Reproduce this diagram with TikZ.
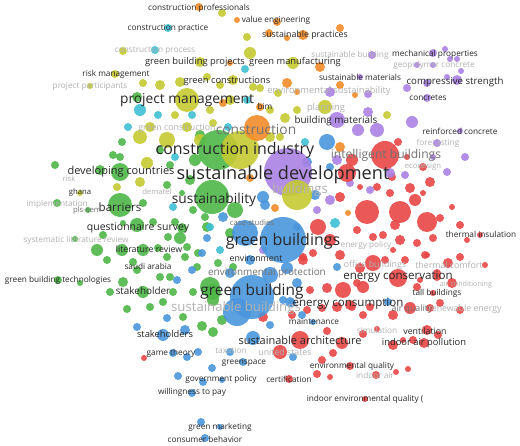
\documentclass[tikz,border=0pt]{standalone}
\usepackage{fontspec}
\setmainfont{Open Sans}
\pgfdeclarelayer{bg}
\pgfdeclarelayer{hub}
\pgfdeclarelayer{fg}
\pgfsetlayers{bg,main,hub,fg}
\definecolor{cR}{RGB}{232,70,70}
\definecolor{cG}{RGB}{78,184,72}
\definecolor{cB}{RGB}{74,150,220}
\definecolor{cY}{RGB}{198,202,50}
\definecolor{cP}{RGB}{170,130,228}
\definecolor{cC}{RGB}{62,192,212}
\definecolor{cO}{RGB}{242,140,42}
\definecolor{tD}{RGB}{40,40,40}
\definecolor{tM}{RGB}{115,115,115}
\definecolor{tL}{RGB}{178,178,178}
\tikzset{
  dotn/.style={circle, inner sep=0pt, draw=none, fill opacity=0.9},
  lk/.style={line width=0.55pt, draw opacity=0.36},
  lk2/.style={line width=0.5pt, draw opacity=0.26},
  lk3/.style={line width=0.5pt, draw opacity=0.2},
  lab/.style={inner sep=0pt, anchor=center},
}
\newcommand\fs[1]{\pgfmathsetmacro\fsz{#1*1.1}\fontsize{\fsz}{\fsz}\selectfont}
\def\redlist{
410/188/5, 430/182/5, 423/167/4, 407/157/3, 392/177/4, 390/193/4, 377/187/4, 360/187/3,
423/193/3, 340/197/5, 440/218/4, 452/207/3, 460/225/4, 467/240/3, 480/235/3, 460/257/4,
448/263/5, 433/238/4, 417/243/4, 400/240/5, 383/235/4, 373/237/4, 357/230/4, 318/227/8,
313/253/4, 303/257/4, 373/263/8, 360/268/5, 405/260/4, 393/250/3, 427/255/3, 357/283/4,
327/288/5, 310/290/4, 417/287/4, 437/277/4, 452/283/5, 433/293/3, 363/287/6, 385/260/4,
425/255/4, 437/273/4, 420/280/3, 410/308/6, 393/315/5, 363/315/4, 352/307/4, 337/307/5,
427/330/5, 438/335/4, 413/340/4, 460/310/4, 430/308/4, 377/329/3, 363/334/4, 327/331/4,
280/352/7, 342/343/6, 333/353/4, 322/360/4, 350/366/4, 317/374/4, 330/377/3, 289/379/4,
376/375/4, 396/372/3, 408/369/3, 393/345/5, 403/340/3, 424/343/5, 365/399/3, 263/317/5,
292/315/4, 307/310/4, 322/308/4, 350/305/5, 370/307/4, 144/358/3, 352/160/6, 398/142/4,
415/200/6, 395/225/5, 330/240/6, 340/255/5, 303/260/5, 485/265/3, 440/303/4}
\def\greenlist{
120/157/4, 100/170/5, 57/203/4, 88/210/3, 143/203/4, 153/222/4, 175/222/4, 137/225/7,
182/228/5, 167/185/4, 182/193/3, 103/235/4, 123/223/3, 168/237/4, 180/238/6, 193/210/4,
205/217/4, 187/247/4, 158/248/4, 122/250/6, 143/250/6, 97/250/6, 75/239/3, 107/260/4,
133/262/4, 167/257/4, 185/257/4, 197/267/4, 218/263/4, 137/270/4, 160/277/4, 123/282/5,
58/280/4, 80/283/3, 110/292/4, 143/292/6, 173/292/4, 193/292/4, 213/292/8, 233/267/4,
230/233/5, 207/227/5, 170/165/4, 113/155/4, 137/97/5, 122/142/4, 127/309/4, 150/307/4,
163/302/4, 183/317/4, 202/326/5, 213/332/5, 213/300/6, 170/277/4, 198/253/4, 210/287/10,
190/180/5, 235/210/8, 195/160/6, 160/150/4, 200/135/5, 222/320/5, 55/165/4}
\def\bluelist{
202/253/4, 207/238/4, 287/268/6, 297/283/5, 230/273/5, 177/280/4, 192/270/4, 283/300/4,
290/302/5, 302/315/4, 313/322/3, 337/267/4, 270/325/4, 167/318/4, 137/327/4, 163/335/6,
185/330/5, 173/353/4, 187/357/4, 198/352/4, 230/352/4, 243/362/4, 212/368/4, 178/376/4,
203/382/4, 222/380/3, 192/393/4, 201/422/4, 220/427/3, 205/438/4, 253/338/7, 293/357/4,
292/303/4, 388/302/4, 327/142/8, 307/162/5, 330/167/4, 263/197/6, 223/217/5, 297/227/4,
265/205/5, 315/195/5, 250/260/5}
\def\purplelist{
372/55/4, 433/53/4, 445/49/3, 450/59/3, 457/59/3, 417/65/3, 433/65/3, 461/71/3,
447/77/3, 457/80/5, 427/83/4, 407/88/4, 368/94/4, 330/92/5, 360/77/3, 427/98/4,
412/122/6, 368/112/5, 358/130/6, 377/130/7, 337/120/8, 460/131/3, 437/143/4, 337/160/5,
370/190/4, 350/183/4, 330/200/5, 317/210/4, 433/157/3, 465/157/4, 447/172/4, 405/175/4,
390/173/5, 263/250/4}
\def\yellowlist{
222/13/4, 247/37/4, 250/53/6, 123/51/4, 180/82/5, 160/85/5, 143/83/4, 115/74/4,
90/86/3, 200/62/5, 207/77/4, 220/85/4, 233/80/5, 253/87/4, 210/110/4, 140/137/7,
167/140/8, 200/140/6, 150/127/5, 187/127/5, 213/123/4, 293/63/6, 260/88/4, 278/93/4,
325/107/7, 270/110/4, 285/118/5, 270/137/5, 297/110/4, 387/115/4, 280/137/4, 147/163/6,
140/182/5, 117/187/4, 80/193/3, 230/100/5, 175/115/4}
\def\cyanlist{
168/28/4, 155/50/4, 245/69/4, 140/110/6, 158/115/4, 192/115/4, 128/127/4, 228/127/4,
247/100/4, 305/142/4, 335/223/5, 173/207/4, 220/250/4, 210/227/4, 297/182/4, 175/157/4}
\def\orangelist{
199/7/4, 277/22/4, 340/28/4, 303/35/5, 269/33/4, 287/38/3, 320/67/5, 287/83/5,
340/85/4, 355/95/3, 297/92/3, 260/107/4, 223/103/4, 230/63/3, 340/147/5, 250/178/4,
275/208/4, 348/213/3, 237/20/3}
\begin{document}
\begin{tikzpicture}[x=1pt,y=-1pt]
\fill[white] (0,0) rectangle (520,446);
\useasboundingbox (0,0) rectangle (520,446);
% ---------- hubs ----------
\begin{pgfonlayer}{hub}
\foreach \n/\x/\y/\r/\c in {
  gh0/218/150/20/cG, yh0/240/150/19/cY, oh0/257/128/13/cO,
  gh1/212/197/17/cG, gh2/120/205/12/cG, gh3/120/172/9/cG,
  yh1/187/100/12/cY,
  ph0/288/172/24/cP, yh2/297/195/15/cY,
  bh1/245/233/13/cB, bh0/283/240/23/cB, bh4/270/275/8/cB,
  bh3/237/312/14/cB, bh2/252/297/22/cB,
  rh0/385/155/14/cR, rh6/347/173/9/cR, rh1/367/212/12/cR, rh2/400/212/11/cR,
  rh5/427/222/10/cR, rh3/398/278/9/cR, rh7/343/290/8/cR, rh4/300/340/9/cR}
  \node[dotn, fill=\c, minimum size=\r*2pt] (\n) at (\x,\y) {};
\end{pgfonlayer}
% ---------- dots ----------
\foreach \x/\y/\r [count=\i] in \redlist
  \node[dotn, fill=cR, minimum size=\r*2pt] (r\i) at (\x,\y) {};
\foreach \x/\y/\r [count=\i] in \greenlist
  \node[dotn, fill=cG, minimum size=\r*2pt] (g\i) at (\x,\y) {};
\foreach \x/\y/\r [count=\i] in \bluelist
  \node[dotn, fill=cB, minimum size=\r*2pt] (b\i) at (\x,\y) {};
\foreach \x/\y/\r [count=\i] in \purplelist
  \node[dotn, fill=cP, minimum size=\r*2pt] (p\i) at (\x,\y) {};
\foreach \x/\y/\r [count=\i] in \yellowlist
  \node[dotn, fill=cY, minimum size=\r*2pt] (y\i) at (\x,\y) {};
\foreach \x/\y/\r [count=\i] in \cyanlist
  \node[dotn, fill=cC, minimum size=\r*2pt] (c\i) at (\x,\y) {};
\foreach \x/\y/\r [count=\i] in \orangelist
  \node[dotn, fill=cO, minimum size=\r*2pt] (o\i) at (\x,\y) {};
% ---------- links ----------
\begin{pgfonlayer}{bg}
\foreach \x/\y/\r [count=\i] in \redlist {
  \pgfmathtruncatemacro\h{mod(\i,5)}
  \pgfmathtruncatemacro\k{mod(\i+3,8)}
  \pgfmathtruncatemacro\b{mod(\i,3)*10-10}
  \draw[lk, cR] (r\i) to[bend left=\b] (rh\h);
  \draw[lk2, cR] (r\i) to[bend right=25] (rh\k);
  \ifodd\i \draw[lk3, cR] (r\i) to[bend right=12] (ph0);
  \else \draw[lk3, cR] (r\i) to[bend left=12] (bh0);\fi
}
\foreach \x/\y/\r [count=\i] in \greenlist {
  \pgfmathtruncatemacro\h{mod(\i,4)}
  \pgfmathtruncatemacro\k{mod(\i+1,4)}
  \pgfmathtruncatemacro\b{mod(\i,3)*10-10}
  \ifnum\h=3 \draw[lk, cG] (g\i) to[bend left=\b] (bh2);
  \else \draw[lk, cG] (g\i) to[bend left=\b] (gh\h);\fi
  \draw[lk2, cG] (g\i) to[bend right=20] (gh\k);
  \ifodd\i \draw[lk3, cG] (g\i) to[bend left=10] (ph0);
  \else \draw[lk3, cG] (g\i) to[bend right=10] (bh0);\fi
}
\foreach \x/\y/\r [count=\i] in \bluelist {
  \pgfmathtruncatemacro\h{mod(\i,4)}
  \pgfmathtruncatemacro\k{mod(\i+2,5)}
  \pgfmathtruncatemacro\b{mod(\i,3)*10-10}
  \ifnum\h=1 \draw[lk, cB] (b\i) to[bend left=\b] (gh1);
  \else \draw[lk, cB] (b\i) to[bend left=\b] (bh\h);\fi
  \draw[lk2, cB] (b\i) to[bend right=18] (bh\k);
  \ifodd\i \draw[lk3, cB] (b\i) to[bend right=10] (ph0);\fi
}
\foreach \x/\y/\r [count=\i] in \purplelist {
  \pgfmathtruncatemacro\b{mod(\i,3)*10-10}
  \ifodd\i \draw[lk, cP] (p\i) to[bend left=\b] (ph0);
  \else \draw[lk, cP] (p\i) to[bend left=\b] (rh0);\fi
  \draw[lk3, cP] (p\i) to[bend right=15] (yh0);
}
\foreach \x/\y/\r [count=\i] in \yellowlist {
  \pgfmathtruncatemacro\h{mod(\i,3)}
  \pgfmathtruncatemacro\b{mod(\i,3)*10-10}
  \ifnum\h=2 \draw[lk, cY] (y\i) to[bend left=\b] (oh0);
  \else \draw[lk, cY] (y\i) to[bend left=\b] (yh\h);\fi
  \draw[lk3, cY] (y\i) to[bend right=12] (ph0);
}
\foreach \x/\y/\r [count=\i] in \cyanlist {
  \ifodd\i \draw[lk, cC] (c\i) to[bend left=10] (yh0);
  \else \draw[lk, cC] (c\i) to[bend right=10] (bh0);\fi
  \draw[lk3, cC] (c\i) to[bend right=12] (yh1);
}
\foreach \x/\y/\r [count=\i] in \orangelist {
  \pgfmathtruncatemacro\h{mod(\i,3)}
  \ifcase\h \draw[lk, cO] (o\i) to[bend left=10] (oh0);
  \or \draw[lk, cO] (o\i) to[bend right=10] (yh0);
  \or \draw[lk, cO] (o\i) to[bend left=10] (ph0);\fi
  \draw[lk2, cO] (o\i) to[bend right=15] (oh0);
}
\foreach \a/\b/\c in {ph0/rh0/cR, ph0/rh1/cR, ph0/rh3/cR, ph0/rh4/cR, ph0/bh0/cB, ph0/bh2/cB,
  ph0/gh0/cG, ph0/gh1/cG, ph0/yh0/cY, ph0/oh0/cO, bh0/bh2/cB, bh0/rh1/cR, bh0/rh3/cR,
  bh2/rh4/cR, bh2/gh1/cG, gh0/gh2/cG, gh1/gh2/cG, yh0/yh1/cY, oh0/yh1/cO, gh0/bh0/cG,
  rh0/rh3/cR, rh1/rh4/cR, rh2/rh3/cR, yh2/bh0/cY, gh3/gh1/cG, bh3/gh2/cB}
  \draw[lk, \c, draw opacity=0.45] (\a) to[bend left=8] (\b);
\end{pgfonlayer}
% ---------- labels ----------
\begin{pgfonlayer}{fg}
\foreach \x/\y/\s/\c/\t [count=\i] in {
199/8/7.5/tD/construction professionals,
276/20/7.5/tD/value engineering,
168/28/7.5/tD/construction practice,
305/35/8/tD/sustainable practices,
155/50/7.5/tL/construction process,
350/55/7.5/tL/sustainable building,
195/62/8.5/tD/green building projects,
295/62/8.5/tD/green manufacturing,
116/74/7.5/tD/risk management,
90/86/7.5/tL/project participants,
227/81/8.5/tD/green constructions,
360/77/7.5/tD/sustainable materials,
329/91/8.5/tL/environmental sustainability,
435/54/7.5/tD/mechanical properties,
434/65/7.5/tL/geopolymer concrete,
455/82/8.8/tD/compressive strength,
428/98/7.5/tD/concretes,
265/106/7.5/tD/bim,
326/108/8.5/tL/planning,
336/121/9/tD/building materials,
187/100/12.5/tD/project management,
177/128/8/tL/green construction,
256/130/12.5/tM/construction,
235/150/14.5/tD/construction industry,
460/131/7.5/tD/reinforced concrete,
438/143/7.5/tL/forecasting,
386/155/11/tM/intelligent buildings,
423/167/7/tL/ecodesign,
300/190/12/tL/buildings,
283/175/16.5/tD/sustainable development,
121/172/10/tD/developing countries,
69/179/7/tL/risk,
80/193/7/tD/ghana,
157/192/7/tL/dematel,
214/200/12.5/tD/sustainability,
120/207/10.5/tD/barriers,
57/204/7.5/tL/implementation,
87/211/7/tM/pls-sem,
252/223/7/tM/case-studies,
138/228/9.5/tD/questionnaire survey,
76/240/7.5/tL/systematic literature review,
283/241/14.5/tD/green buildings,
366/245/7.5/tL/energy policy,
481/234/7.5/tD/thermal insulation,
149/249/8/tD/literature review,
256/258/8/tD/environment,
148/266/7.5/tD/saudi arabia,
267/273/9/tM/environmental protection,
375/265/8/tL/office buildings,
449/265/8/tL/thermal comfort,
58/280/7.5/tD/green building technologies,
466/285/6.5/tL/air conditioning,
398/277/10.5/tD/energy conservation,
143/291/9/tD/stakeholder,
236/308/12/tL/sustainable buildings,
252/292/14/tD/green building,
437/293/7.5/tD/tall buildings,
348/304/10.5/tD/energy consumption,
412/309/8/tM/air quality,
465/309/8/tL/renewable energy,
314/322/7.5/tD/maintenance,
377/330/7.5/tL/simulation,
425/331/8/tD/ventilation,
165/334/8.5/tD/stakeholders,
285/352/8/tL/united states,
300/340/10/tD/sustainable architecture,
424/343/8.5/tD/indoor air pollution,
171/353/7.5/tD/game theory,
231/351/7.5/tL/taxation,
244/363/7.5/tD/greenspace,
352/366/7.5/tD/environmental quality,
375/375/7.5/tL/indoor air,
289/379/7.5/tD/certification,
221/379/7.5/tD/government policy,
192/392/7.5/tD/willingness to pay,
365/399/7.5/tD/indoor environmental quality (,
220/427/7.5/tD/green marketing,
205/439/7.5/tD/consumer behavior}
  \node[lab, text=\c, font=\fs{\s}] (l\i) at (\x,\y) {\t};
\end{pgfonlayer}
\end{tikzpicture}
\end{document}
